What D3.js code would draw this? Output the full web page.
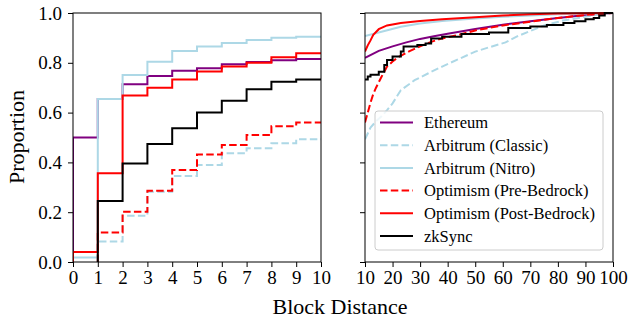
<!DOCTYPE html>
<html>
<head>
<meta charset="utf-8">
<script src="https://cdn.jsdelivr.net/npm/d3@7"></script>
<style>
body { margin: 0; background: white; }
svg text { font-family: 'Liberation Serif', 'DejaVu Serif', serif; fill: black; }
</style>
</head>
<body>
<script>
var svgWidth = 629;
var svgHeight = 323;

// series
var names = ['Ethereum', 'Arbitrum (Classic)', 'Arbitrum (Nitro)', 'Optimism (Pre-Bedrock)', 'Optimism (Post-Bedrock)', 'zkSync'];
var colors = ['purple', 'lightblue', 'lightblue', 'red', 'red', 'black'];
var dashed = [false, true, false, true, false, false];

// left panel: proportion for block distance 0..9 (step after each value, up to 10)
var ethereumShort = [0.50, 0.655, 0.714, 0.747, 0.768, 0.778, 0.794, 0.803, 0.810, 0.815];
var classicShort = [0.0, 0.082, 0.186, 0.282, 0.345, 0.390, 0.437, 0.457, 0.477, 0.493];
var nitroShort = [0.018, 0.655, 0.751, 0.804, 0.847, 0.865, 0.880, 0.892, 0.901, 0.905];
var preBedrockShort = [0.0, 0.118, 0.202, 0.286, 0.369, 0.432, 0.470, 0.510, 0.545, 0.560];
var postBedrockShort = [0.04, 0.356, 0.669, 0.700, 0.733, 0.765, 0.785, 0.800, 0.822, 0.838];
var zksyncShort = [0.0, 0.245, 0.396, 0.474, 0.537, 0.600, 0.648, 0.694, 0.724, 0.733];

// right panel: [block distance, proportion] for 10..100
var ethereumLong = [[10, 0.820], [15, 0.848], [20, 0.866], [25, 0.882], [30, 0.896], [35, 0.907], [40, 0.917],
    [50, 0.936], [60, 0.953], [70, 0.967], [80, 0.980], [90, 0.992], [100, 1.0]];
var classicLong = [[10, 0.493], [12, 0.540], [14, 0.565], [16, 0.585], [18, 0.610], [20, 0.637], [23, 0.690],
    [28, 0.730], [33, 0.758], [38, 0.785], [44, 0.815], [50, 0.845], [55, 0.862], [61, 0.882], [65, 0.905],
    [70, 0.928], [75, 0.950], [82, 0.970], [90, 0.985], [95, 0.995], [100, 1.0]];
var nitroLong = [[10, 0.908], [16, 0.925], [23, 0.945], [30, 0.958], [38, 0.968], [50, 0.978], [60, 0.985],
    [70, 0.990], [80, 0.995], [90, 0.998], [100, 1.0]];
var preBedrockLong = [[10, 0.560], [11, 0.600], [12, 0.640], [13, 0.675], [14, 0.700], [16, 0.744], [18, 0.785],
    [20, 0.805], [22, 0.822], [26, 0.846], [30, 0.866], [34, 0.884], [38, 0.898], [44, 0.912], [50, 0.930],
    [60, 0.950], [70, 0.965], [80, 0.980], [90, 0.992], [100, 1.0]];
var postBedrockLong = [[10, 0.845], [11, 0.870], [12, 0.890], [13, 0.912], [15, 0.935], [18, 0.950], [23, 0.960],
    [30, 0.968], [38, 0.975], [50, 0.983], [60, 0.990], [70, 0.995], [80, 0.998], [100, 1.0]];
var zksyncLong = [[10, 0.733], [11, 0.745], [12, 0.752], [15, 0.764], [17, 0.791], [18, 0.811], [20, 0.825],
    [23, 0.845], [24, 0.865], [29, 0.871], [32, 0.878], [34, 0.898], [38, 0.905], [45, 0.916], [55, 0.922],
    [62, 0.940], [70, 0.946], [76, 0.952], [82, 0.960], [86, 0.967], [90, 0.975], [93, 0.980], [95, 0.990],
    [97, 1.0], [100, 1.0]];

var yTicks = [0, 0.2, 0.4, 0.6, 0.8, 1.0];
var leftTicks = [0, 1, 2, 3, 4, 5, 6, 7, 8, 9, 10];
var rightTicks = [10, 20, 30, 40, 50, 60, 70, 80, 90, 100];

var shortData = [ethereumShort, classicShort, nitroShort, preBedrockShort, postBedrockShort, zksyncShort];
var longData = [ethereumLong, classicLong, nitroLong, preBedrockLong, postBedrockLong, zksyncLong];
var longStepped = [false, false, false, false, false, true];

var svg = d3.select('body')
    .append('svg')
    .attr('width', svgWidth)
    .attr('height', svgHeight);

var y = d3.scaleLinear().domain([0, 1]).range([262, 13]);
var xLeft = d3.scaleLinear().domain([0, 10]).range([73, 321]);
var xRight = d3.scaleLinear().domain([10, 100]).range([365, 613]);

var defs = svg.append('defs');
[['clipLeft', xLeft], ['clipRight', xRight]].forEach(function (c) {
    defs.append('clipPath')
        .attr('id', c[0])
        .append('rect')
        .attr('x', c[1].range()[0])
        .attr('y', y(1) - 2)
        .attr('width', c[1].range()[1] - c[1].range()[0])
        .attr('height', y(0) - y(1) + 4);
});

function styleLine(sel, i) {
    sel.attr('fill', 'none')
        .attr('stroke', colors[i])
        .attr('stroke-width', 2)
        .attr('stroke-dasharray', dashed[i] ? '7.5,3.3' : null);
}

// left panel step lines
var leftLines = svg.append('g').attr('clip-path', 'url(#clipLeft)');
var stepLine = d3.line()
    .x(function (d) { return xLeft(d[0]); })
    .y(function (d) { return y(d[1]); })
    .curve(d3.curveStepAfter);

shortData.forEach(function (vals, i) {
    // the ecdf starts at zero on the first distance with any blocks
    var start = vals.findIndex(function (v) { return v > 0; });
    var pts = [[start, 0]];
    for (var j = start; j < vals.length; j++) pts.push([j, vals[j]]);
    pts.push([10, vals[vals.length - 1]]);
    leftLines.append('path')
        .attr('d', stepLine(pts))
        .call(styleLine, i);
});

// right panel lines
var rightLines = svg.append('g').attr('clip-path', 'url(#clipRight)');
longData.forEach(function (pts, i) {
    var line = d3.line()
        .x(function (d) { return xRight(d[0]); })
        .y(function (d) { return y(d[1]); })
        .curve(longStepped[i] ? d3.curveStepAfter : d3.curveLinear);
    rightLines.append('path')
        .attr('d', line(pts))
        .call(styleLine, i);
});

// axes
function styleAxis(g) {
    g.select('.domain').remove();
    g.attr('font-size', 19);
    g.selectAll('.tick line').attr('stroke', 'black');
}

svg.append('g')
    .attr('transform', 'translate(73,0)')
    .call(d3.axisLeft(y).tickValues(yTicks).tickFormat(d3.format('.1f')).tickSize(5).tickPadding(6))
    .call(styleAxis);

svg.append('g')
    .attr('transform', 'translate(365,0)')
    .call(d3.axisLeft(y).tickValues(yTicks).tickFormat('').tickSize(5))
    .call(styleAxis);

svg.append('g')
    .attr('transform', 'translate(0,262)')
    .call(d3.axisBottom(xLeft).tickValues(leftTicks).tickFormat(d3.format('d')).tickSize(5).tickPadding(4))
    .call(styleAxis);

svg.append('g')
    .attr('transform', 'translate(0,262)')
    .call(d3.axisBottom(xRight).tickValues(rightTicks).tickFormat(d3.format('d')).tickSize(5).tickPadding(4))
    .call(styleAxis);

// frames
[xLeft, xRight].forEach(function (x) {
    svg.append('rect')
        .attr('x', x.range()[0])
        .attr('y', y(1))
        .attr('width', x.range()[1] - x.range()[0])
        .attr('height', y(0) - y(1))
        .attr('fill', 'none')
        .attr('stroke', 'black')
        .attr('stroke-width', 1);
});

// axis titles
svg.append('text')
    .attr('transform', 'translate(24,137) rotate(-90)')
    .attr('text-anchor', 'middle')
    .attr('font-size', 22)
    .text('Proportion');

svg.append('text')
    .attr('x', 340)
    .attr('y', 314)
    .attr('text-anchor', 'middle')
    .attr('font-size', 22)
    .text('Block Distance');

// legend
var legend = svg.append('g');
legend.append('rect')
    .attr('x', 375)
    .attr('y', 111)
    .attr('width', 228)
    .attr('height', 139)
    .attr('rx', 3)
    .attr('fill', 'white')
    .attr('fill-opacity', 0.8)
    .attr('stroke', '#cccccc');

names.forEach(function (name, i) {
    var ly = 122.5 + i * 22.7;
    legend.append('line')
        .attr('x1', 380)
        .attr('x2', 413)
        .attr('y1', ly)
        .attr('y2', ly)
        .call(styleLine, i);
    legend.append('text')
        .attr('x', 424)
        .attr('y', ly)
        .attr('dy', '0.35em')
        .attr('font-size', 16.5)
        .text(name);
});
</script>
</body>
</html>
